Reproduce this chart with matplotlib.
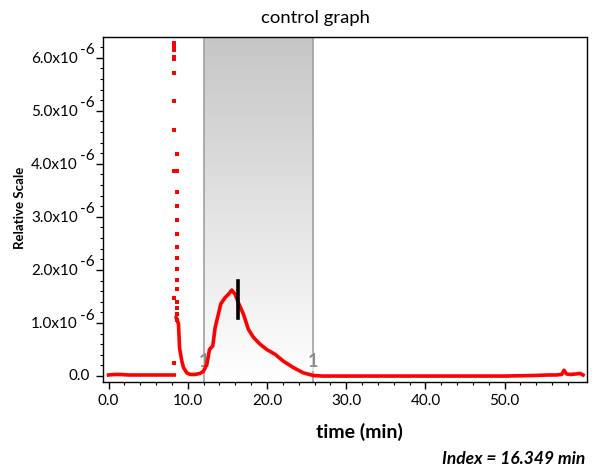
import matplotlib
matplotlib.use('Agg')
import matplotlib.pyplot as plt
import matplotlib.transforms as mtrans
import numpy as np
from matplotlib.ticker import FixedLocator, FuncFormatter

plt.rcParams['font.family'] = ['Lato', 'DejaVu Sans']

# baseline before the injection spike (min, x1e-6)
base_t = [0.0, 0.8, 1.5, 2.5, 4.0, 6.0, 7.5, 8.3]
base_v = [0.02, 0.03, 0.03, 0.02, 0.02, 0.02, 0.02, 0.02]

# isolated points of the spike
spike_t = [8.3, 8.3, 8.3, 8.3, 8.3, 8.3, 8.3, 8.3, 8.3, 8.3, 8.3,
           8.6, 8.6, 8.6, 8.6, 8.6, 8.6, 8.6, 8.6, 8.6, 8.6, 8.6,
           8.6, 8.6, 8.6, 8.6]
spike_v = [6.27, 6.22, 6.15, 6.02, 5.97, 5.72, 5.19, 4.63, 3.87, 1.48, 0.24,
           4.19, 3.87, 3.47, 3.21, 2.94, 2.67, 2.44, 2.22, 2.02, 1.81, 1.64,
           1.39, 1.29, 1.17, 1.05]

# main trace after the spike
trace_t = [8.54, 8.83, 8.96, 9.25, 9.46, 9.88, 10.3, 10.93, 11.56, 11.98,
           12.41, 12.74, 13.16, 13.45, 13.87, 14.17, 14.72, 15.13, 15.56,
           15.98, 16.39, 17.02, 17.65, 18.29, 19.13, 19.97, 21.02, 22.07,
           23.33, 24.59, 25.85, 27.0, 30.0, 35.0, 40.0, 45.0, 50.0, 53.6,
           55.5, 56.5, 57.2, 57.5, 57.8, 58.3, 59.07, 59.5, 59.9]
trace_v = [1.10, 0.98, 0.53, 0.28, 0.16, 0.06, 0.03, 0.03, 0.05, 0.09,
           0.22, 0.50, 0.57, 0.91, 1.17, 1.36, 1.48, 1.54, 1.62,
           1.54, 1.38, 1.17, 0.88, 0.73, 0.60, 0.50, 0.41, 0.28,
           0.16, 0.06, 0.01, 0.0, 0.0, 0.0, 0.0, 0.0, 0.0, 0.01,
           0.02, 0.02, 0.03, 0.11, 0.04, 0.03, 0.04, 0.05, 0.02]

region = [12.07, 25.78]
index_t = 16.30
index_range = [1.10, 1.80]

x_major = [0, 10, 20, 30, 40, 50]
x_minor = [2, 4, 6, 8, 12, 14, 16, 18, 22, 24, 26, 28, 32, 34, 36, 38,
           42, 44, 46, 48, 52, 54, 56, 58]
y_major = [0, 1, 2, 3, 4, 5, 6]

fig = plt.figure(figsize=(5.92, 4.68), dpi=100)
ax = fig.add_axes([0.174, 0.184, 0.8176, 0.737])

ymin, ymax = -0.11, 6.39
# gradient shaded integration region
grad = np.linspace(0, 1, 256).reshape(-1, 1)
cmap = matplotlib.colors.LinearSegmentedColormap.from_list('g', ['#ffffff', '#c6c6c6'])
ax.imshow(grad, extent=[region[0], region[1], ymin, ymax], origin='lower',
          cmap=cmap, aspect='auto', zorder=0)
for r in region:
    ax.axvline(r, color='#a0a0a0', lw=1.2, zorder=1)
    ax.text(r, 0.27, '1', color='#8c8c8c', fontsize=13, fontweight='bold',
            ha='center', va='center', zorder=2,
            bbox=dict(facecolor='white', edgecolor='none', pad=0.2, alpha=0.7))

red = '#ff0000'
ax.plot(base_t, base_v, color=red, lw=2.6, zorder=3)
ax.plot(trace_t, trace_v, color=red, lw=2.6, zorder=3)
ax.plot(spike_t, spike_v, 's', color=red, ms=2.6, mew=0, zorder=3)

ax.plot([index_t, index_t], index_range, color='black', lw=2.6, zorder=4)

ax.set_xlim(-0.7, 60.4)
ax.set_ylim(ymin, ymax)

ax.xaxis.set_major_locator(FixedLocator(x_major))
ax.xaxis.set_minor_locator(FixedLocator(x_minor))
ax.yaxis.set_major_locator(FixedLocator(y_major))
ax.yaxis.set_minor_locator(FixedLocator([v / 5 for v in range(0, 32) if v % 5]))
ax.xaxis.set_major_formatter(FuncFormatter(lambda v, p: f'{v:.1f}'))
ax.yaxis.set_major_formatter(FuncFormatter(lambda v, p: '' if v == 0 else f'{v:.1f}x10'))

ax.tick_params(which='major', length=5, width=1, labelsize=11)
ax.tick_params(axis='x', which='major', pad=4)
ax.tick_params(axis='y', which='major', pad=13)
ax.tick_params(which='minor', length=2.5, width=0.8)
for s in ax.spines.values():
    s.set_linewidth(1.0)

# exponent of the y tick labels, and the zero label sitting closer
sup_tr = mtrans.blended_transform_factory(fig.transFigure, ax.transData)
for v in y_major[1:]:
    ax.text(80 / 592, v + 0.14, '-6', transform=sup_tr, fontsize=11,
            ha='left', va='center', clip_on=False)
ax.text(90 / 592, 0, '0.0', transform=sup_tr, fontsize=11,
        ha='right', va='center', clip_on=False)

fig.text(315 / 592, 1 - 18 / 468, 'control graph', ha='center', va='center', fontsize=13.3)
fig.text(20 / 592, 1 - 208 / 468, 'Relative Scale', ha='center', va='center',
         rotation=90, fontsize=9.5, fontweight='bold')
fig.text(359 / 592, 1 - 432 / 468, 'time (min)', ha='center', va='center',
         fontsize=14, fontweight='bold')
fig.text(585 / 592, 1 - 459 / 468, 'Index = 16.349 min', ha='right', va='center',
         fontsize=12.5, fontweight='bold', style='italic')

fig.savefig('out.png', dpi=100)
